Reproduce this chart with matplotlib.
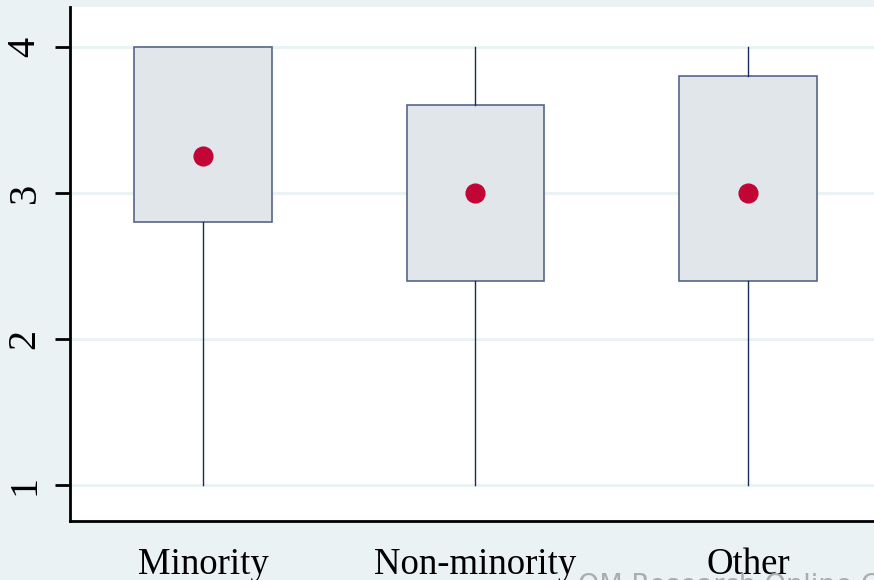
import matplotlib.pyplot as plt
import numpy as np

groups = ["Minority", "Non-minority", "Other"]
whislo = [1.0, 1.0, 1.0]
q1 = [2.8, 2.4, 2.4]
med = [3.25, 3.0, 3.0]
q3 = [4.0, 3.6, 3.8]
whishi = [4.0, 4.0, 4.0]

bg = "#EAF2F3"
navy = "#1A2A5A"

fig = plt.figure(figsize=(8.74, 5.8), dpi=100, facecolor=bg)
ax = fig.add_axes([70 / 874, 59 / 580, 811 / 874, 514 / 580])
ax.set_facecolor("white")

stats = []
for i, g in enumerate(groups):
    stats.append(dict(label=g, whislo=whislo[i], q1=q1[i], med=med[i],
                      q3=q3[i], whishi=whishi[i], fliers=[]))

pos = np.arange(1, len(groups) + 1)
ax.bxp(stats, positions=pos, widths=0.503, patch_artist=True, showcaps=False,
       boxprops=dict(facecolor="#E1E6EA", edgecolor="#58658A", linewidth=1.2),
       whiskerprops=dict(color=navy, linewidth=1.0),
       medianprops=dict(linewidth=0), zorder=3)
ax.plot(pos, med, "o", color="#C10534", markersize=13.5, zorder=4)

ax.set_xlim(0.512, 3.488)
ax.set_ylim(0.753, 4.274)
ax.set_yticks([1, 2, 3, 4])
ax.grid(axis="y", color=bg, linewidth=2.2, zorder=0)
ax.set_axisbelow(True)

for s in ["top", "right"]:
    ax.spines[s].set_visible(False)
for s in ["left", "bottom"]:
    ax.spines[s].set_linewidth(2)
    ax.spines[s].set_color("black")

ax.set_xticks(pos)
ax.set_xticklabels(groups, family="Liberation Serif", fontsize=26.5)
ax.tick_params(axis="x", length=0, pad=19)
ax.tick_params(axis="y", length=11, width=2, pad=8, labelsize=29)
for lab in ax.get_yticklabels():
    lab.set_family("Liberation Serif")
    lab.set_rotation(90)
    lab.set_va("center")

# faint watermark at the bottom edge, cut off like in the source image
fig.text(578 / 874, 1 - 573 / 580, "OM Research Online C", color="#A8ADB0",
         fontsize=19.5, va="top", ha="left", family="DejaVu Sans")

fig.savefig("out.png", dpi=100, facecolor=bg)
